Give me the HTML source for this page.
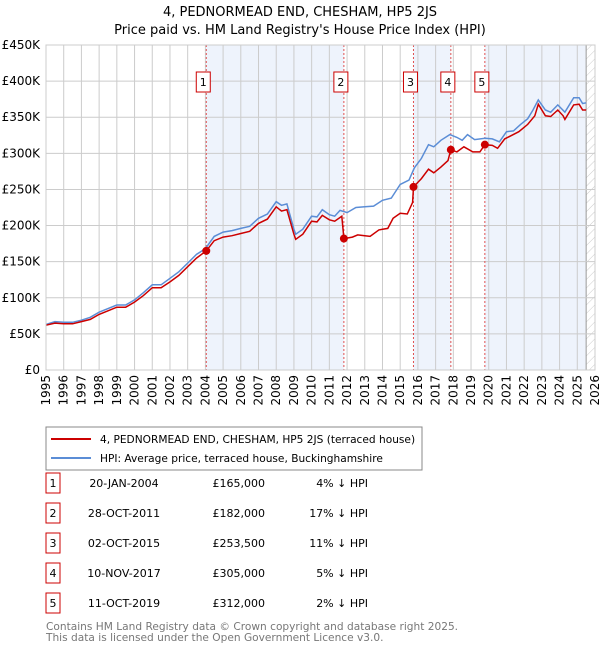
<!DOCTYPE html>
<html><head><meta charset="utf-8"><style>
body{margin:0;background:#fff;font-family:"Liberation Sans","DejaVu Sans",sans-serif}
</style></head><body>
<svg width="600" height="650" xmlns="http://www.w3.org/2000/svg" font-family="DejaVu Sans, Liberation Sans, sans-serif">
<defs><pattern id="hatch" width="6" height="6" patternUnits="userSpaceOnUse" patternTransform="rotate(45)"><line x1="0" y1="0" x2="0" y2="6" stroke="#ccc" stroke-width="1"/></pattern></defs>
<text x="300" y="16" text-anchor="middle" font-size="13">4, PEDNORMEAD END, CHESHAM, HP5 2JS</text>
<text x="300" y="34" text-anchor="middle" font-size="13">Price paid vs. HM Land Registry's House Price Index (HPI)</text>
<g id="plot"></g>
<g>
<rect x="46" y="427" width="376" height="43" fill="#fff" stroke="#888"/>
<line x1="51" y1="439" x2="91" y2="439" stroke="#cc0000" stroke-width="2"/>
<text x="100" y="443" font-size="10.6">4, PEDNORMEAD END, CHESHAM, HP5 2JS (terraced house)</text>
<line x1="51" y1="458" x2="91" y2="458" stroke="#5b8dd6" stroke-width="2"/>
<text x="100" y="462" font-size="10.6">HPI: Average price, terraced house, Buckinghamshire</text>
</g>
<g id="table" font-size="11"></g>
<text x="46" y="630" font-size="10.6" fill="#777">Contains HM Land Registry data © Crown copyright and database right 2025.</text>
<text x="46" y="641" font-size="10.6" fill="#777">This data is licensed under the Open Government Licence v3.0.</text>
</svg>
<script>
const hpiYears=[1995,1995.5,1996,1996.5,1997,1997.5,1998,1998.5,1999,1999.5,2000,2000.5,2001,2001.5,2002,2002.5,2003,2003.5,2004,2004.5,2005,2005.5,2006,2006.5,2007,2007.5,2008,2008.3,2008.6,2009,2009.1,2009.5,2010,2010.3,2010.6,2011,2011.3,2011.6,2012,2012.5,2013,2013.5,2014,2014.5,2015,2015.5,2015.8,2016.2,2016.6,2016.9,2017.3,2017.8,2018.2,2018.5,2018.8,2019.2,2019.8,2020.2,2020.6,2021,2021.4,2021.8,2022.2,2022.5,2022.8,2023.2,2023.5,2023.9,2024.3,2024.8,2025.1,2025.3,2025.5];
const hpiValues=[63,67,66,66,69,73,80,85,90,90,97,107,118,118,127,136,148,160,168,185,191,193,196,199,210,216,233,228,230,195,188,195,213,212,222,215,213,221,218,225,226,227,235,238,257,263,280,293,312,309,318,326,322,318,326,319,321,320,316,330,331,340,348,360,374,360,357,367,357,377,377,369,370];
const priceYears=[1995,1995.5,1996,1996.5,1997,1997.5,1998,1998.5,1999,1999.5,2000,2000.5,2001,2001.5,2002,2002.5,2003,2003.5,2004.05,2004.5,2005,2005.5,2006,2006.5,2007,2007.5,2008,2008.3,2008.6,2009,2009.1,2009.5,2010,2010.3,2010.6,2011,2011.3,2011.7,2011.82,2012.3,2012.6,2013,2013.3,2013.8,2014.3,2014.6,2015,2015.4,2015.7,2015.75,2016.2,2016.6,2016.9,2017.3,2017.7,2017.86,2018.2,2018.6,2019.1,2019.5,2019.78,2020.2,2020.5,2020.9,2021.3,2021.7,2022.2,2022.6,2022.8,2023.2,2023.5,2023.9,2024.2,2024.3,2024.8,2025.1,2025.3,2025.5];
const priceValues=[62,65,64,64,67,70,77,82,87,87,94,103,114,114,122,131,143,155,165,179,184,186,189,192,203,209,226,220,222,188,181,188,206,205,214,208,206,213,182,184,187,186,185,194,196,210,217,216,232,253.5,265,278,273,281,290,305,302,309,302,302,312,311,307,320,325,330,340,352,368,352,351,360,352,347,367,368,360,360];
const saleLabels=["1","2","3","4","5"];
const saleYears=[2004.05,2011.82,2015.75,2017.86,2019.78];
const salePrices=[165,182,253.5,305,312];
const saleDates=["20-JAN-2004","28-OCT-2011","02-OCT-2015","10-NOV-2017","11-OCT-2019"];
const salePriceText=["£165,000","£182,000","£253,500","£305,000","£312,000"];
const salePct=["4% ↓ HPI","17% ↓ HPI","11% ↓ HPI","5% ↓ HPI","2% ↓ HPI"];
const yTicks=[0,50,100,150,200,250,300,350,400,450];
const yTickLabels=["£0","£50K","£100K","£150K","£200K","£250K","£300K","£350K","£400K","£450K"];
const xTicks=[1995,1996,1997,1998,1999,2000,2001,2002,2003,2004,2005,2006,2007,2008,2009,2010,2011,2012,2013,2014,2015,2016,2017,2018,2019,2020,2021,2022,2023,2024,2025,2026];
const dataEnd=2025.5;

const NS="http://www.w3.org/2000/svg";
const L=46,R=595,T=45,B=370;
const x=v=>L+(v-1995)/(2026-1995)*(R-L);
const y=v=>B-v/450*(B-T);
const plot=document.getElementById('plot');
function mk(tag,attrs,parent){const e=document.createElementNS(NS,tag);for(const k in attrs)e.setAttribute(k,attrs[k]);(parent||plot).appendChild(e);return e;}

for(let i=0;i<saleYears.length;i+=2){
  const x1=x(saleYears[i]);const x2=i+1<saleYears.length?x(saleYears[i+1]):x(dataEnd);
  const s=mk('rect',{x:x1,y:T,width:x2-x1,height:B-T,fill:'#eef3fc'});
  
  
}
const h=mk('rect',{x:x(dataEnd),y:T,width:R-x(dataEnd),height:B-T,fill:'url(#hatch)'});


mk('line',{x1:x(dataEnd),y1:T,x2:x(dataEnd),y2:B,stroke:'#999','stroke-width':1});
xTicks.forEach(t=>{
  const g=mk('line',{x1:x(t),y1:T,x2:x(t),y2:B,stroke:'#ccc','stroke-width':1});
  
  
  const tx=mk('text',{x:0,y:0,'font-size':12,'text-anchor':'end',transform:`translate(${x(t)+4},${B+5}) rotate(-90)`});
  tx.textContent=t;
  
  
});
yTicks.forEach((t,i)=>{
  const g=mk('line',{x1:L,y1:y(t),x2:R,y2:y(t),stroke:'#ccc','stroke-width':1});
  
  
  const tx=mk('text',{x:L-6,y:y(t)+4,'font-size':12,'text-anchor':'end'});
  tx.textContent=yTickLabels[i];
  
  
});
saleYears.forEach(s=>{
  const v=mk('line',{x1:x(s),y1:T,x2:x(s),y2:B,stroke:'#e05050','stroke-width':1,'stroke-dasharray':'2,2'});
  
  
});
const pts=(xs,vs)=>xs.map((t,i)=>x(t).toFixed(1)+','+y(vs[i]).toFixed(1)).join(' ');
const hl=mk('polyline',{points:pts(hpiYears,hpiValues),fill:'none',stroke:'#5b8dd6','stroke-width':1.5});


const pl=mk('polyline',{points:pts(priceYears,priceValues),fill:'none',stroke:'#cc0000','stroke-width':1.5});


saleYears.forEach((s,i)=>{
  const c=mk('circle',{cx:x(s),cy:y(salePrices[i]),r:4,fill:'#cc0000'});
  
  
  const bx=mk('rect',{x:x(s)-10,y:72,width:14,height:20,fill:'#fff',stroke:'#cc0000'});
  
  
  const t=mk('text',{x:x(s)-3,y:86,'font-size':11,'text-anchor':'middle'});
  t.textContent=saleLabels[i];
  
  
});
mk('rect',{x:L,y:T,width:R-L,height:B-T,fill:'none',stroke:'#ccc'});
const tbl=document.getElementById('table');
saleLabels.forEach((lab,i)=>{
  const cy=483+i*30;
  const b=mk('rect',{x:46,y:cy-10,width:14,height:20,fill:'#fff',stroke:'#cc0000'},tbl);
  
  
  const cols=[[53,lab,'middle'],[124,saleDates[i],'middle'],[265,salePriceText[i],'end'],[368,salePct[i],'end']];
  cols.forEach(c=>{
    const t=mk('text',{x:c[0],y:cy+4,'text-anchor':c[2]},tbl);
    t.textContent=c[1];
    
    
  });
});
</script>
</body></html>
